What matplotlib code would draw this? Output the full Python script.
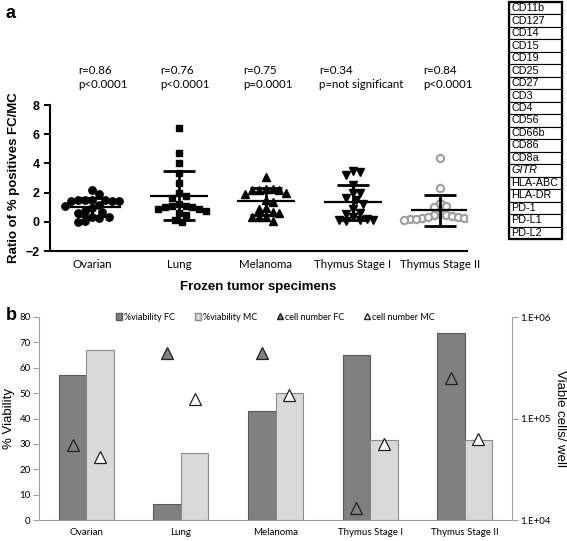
import numpy as np
import matplotlib
matplotlib.use('Agg')
import matplotlib.pyplot as plt
from matplotlib.patches import Patch, Rectangle
from matplotlib.lines import Line2D

W, H = 567, 541

# ---- panel a data ----
groups = ['Ovarian', 'Lung', 'Melanoma', 'Thymus Stage I', 'Thymus Stage II']
ovarian = [2.2, 1.9, 1.5, 1.5, 1.45, 1.5, 1.45, 1.5, 1.45, 1.15, 1.1, 0.95, 0.75, 0.7, 0.6, 0.35, 0.3, 0.25, 0.05, 0.0]
lung = [6.45, 4.7, 4.0, 3.35, 2.65, 1.95, 1.8, 1.6, 1.2, 1.1, 1.0, 0.9, 0.75, 0.85, 1.0, 1.1, 0.6, 0.45, 0.15, 0.0]
melanoma = [3.1, 2.25, 2.2, 2.2, 2.25, 2.2, 2.0, 1.9, 1.5, 1.35, 0.95, 0.9, 0.65, 0.6, 0.35, 0.35, 0.3, 0.05]
thymus1 = [3.5, 3.4, 3.2, 2.55, 1.95, 1.95, 1.65, 1.5, 1.25, 0.9, 0.6, 0.55, 0.35, 0.15, 0.1, 0.05, 0.1, 0.2]
thymus2 = [4.35, 2.3, 1.3, 1.1, 1.0, 0.55, 0.5, 0.45, 0.4, 0.3, 0.25, 0.2, 0.2, 0.25, 0.2, 0.3, 0.2, 0.15]
r_texts = ['r=0.86', 'r=0.76', 'r=0.75', 'r=0.34', 'r=0.84']
p_texts = ['p<0.0001', 'p<0.0001', 'p=0.0001', 'p=not significant', 'p<0.0001']
markers = ['CD11b', 'CD127', 'CD14', 'CD15', 'CD19', 'CD25', 'CD27', 'CD3', 'CD4', 'CD56',
           'CD66b', 'CD86', 'CD8a', 'GITR', 'HLA-ABC', 'HLA-DR', 'PD-1', 'PD-L1', 'PD-L2']

# ---- panel b data ----
viab_fc = [57, 6.5, 43, 65, 73.5]
viab_mc = [67, 26.5, 50, 31.5, 31.5]
cells_fc = [5.5e4, 4.4e5, 4.4e5, 1.3e4, 2.5e5]
cells_mc = [4.2e4, 1.55e5, 1.7e5, 5.6e4, 6.3e4]

calib = 'Lato'
arial = 'Liberation Sans'

fig = plt.figure(figsize=(W / 100, H / 100), dpi=100)

def px(x0, y0, x1, y1):
    return [x0 / W, 1 - y1 / H, (x1 - x0) / W, (y1 - y0) / H]

# ================= panel a =================
ax = fig.add_axes(px(50, 105, 467, 251))
ax.set_xlim(-0.48, 4.31)
ax.set_ylim(-2, 8)


def swarm(ax, x0, vals, d_px):
    t = ax.transData
    ux = t.transform((1, 0))[0] - t.transform((0, 0))[0]
    ys = [t.transform((x0, v))[1] for v in vals]
    placed = []
    offs = [0.0] * len(vals)
    for i in np.argsort(vals)[::-1]:
        for k in range(40):
            o = ((k + 1) // 2) * (1 if k % 2 else -1) * d_px * 0.5
            if all((o - po) ** 2 + (ys[i] - py) ** 2 >= d_px ** 2 for po, py in placed):
                break
        placed.append((o, ys[i]))
        offs[i] = o / ux
    return np.array(offs)


series = [ovarian, lung, melanoma, thymus1, thymus2]
mks = ['o', 's', '^', 'v', 'o']
for i, (vals, mk) in enumerate(zip(series, mks)):
    vals = np.array(vals)
    offs = swarm(ax, i, vals, 6.8 if i < 4 else 6.0)
    if i == 4:
        ax.plot(i + offs, vals, ls='none', marker='o', ms=5.2, mfc='white',
                mec='#a0a0a0', mew=1.6, zorder=2)
    else:
        ax.plot(i + offs, vals, ls='none', marker=mk, ms=5.3 if mk != 's' else 5,
                color='black', zorder=2)
    m, s = vals.mean(), vals.std(ddof=1)
    ax.hlines(m, i - 0.33, i + 0.33, color='black', lw=1.6, zorder=3)
    ax.hlines([m - s, m + s], i - 0.18, i + 0.18, color='black', lw=2, zorder=3)
    ax.vlines(i, m - s, m + s, color='black', lw=2, zorder=3)

ax.set_xticks(range(5))
ax.set_xticklabels(groups, fontfamily=calib, fontsize=8.3)
ax.tick_params(axis='x', length=0, pad=6)
ax.set_yticks([-2, 0, 2, 4, 6, 8])
ax.tick_params(axis='y', length=4, width=1.4, labelsize=9)
for lab in ax.get_yticklabels():
    lab.set_fontweight('bold')
    lab.set_fontfamily(arial)
for sp in ['top', 'right']:
    ax.spines[sp].set_visible(False)
ax.spines['left'].set_linewidth(1.5)
ax.spines['bottom'].set_linewidth(1.5)
ax.set_ylabel('Ratio of % positives FC/MC', fontfamily=arial, fontweight='bold', fontsize=9.5, labelpad=4)
ax.set_xlabel('Frozen tumor specimens', fontfamily=arial, fontweight='bold', fontsize=9.5, labelpad=8)

text_x = [78, 160, 243, 319, 423]
for x, r, p in zip(text_x, r_texts, p_texts):
    fig.text(x / W, 1 - 70 / H, r, fontfamily=calib, fontsize=8.3, va='center')
    fig.text(x / W, 1 - 84 / H, p, fontfamily=calib, fontsize=8.3, va='center')

fig.text(6 / W, 1 - 13 / H, 'a', fontfamily=arial, fontweight='bold', fontsize=13, va='center')
fig.text(6 / W, 1 - 316 / H, 'b', fontfamily=arial, fontweight='bold', fontsize=13, va='center')

# marker table
tax = fig.add_axes(px(509, 2, 562, 239))
tax.axis('off')
tbl = tax.table(cellText=[[m] for m in markers], bbox=[0, 0, 1, 1], cellLoc='left')
tbl.auto_set_font_size(False)
for (r, c), cell in tbl.get_celld().items():
    cell.set_linewidth(0.8)
    cell.PAD = 0.04
    cell.get_text().set_fontsize(7.8)
    cell.get_text().set_fontfamily(arial)
    if markers[r] == 'GITR':
        cell.get_text().set_fontstyle('italic')
tax.add_patch(Rectangle((0, 0), 1, 1, fill=False, lw=1.6, transform=tax.transAxes, clip_on=False))

# ================= panel b =================
bx = fig.add_axes(px(39, 317, 512, 520))
x = np.arange(5)
bw = 0.29
bx.bar(x - bw / 2, viab_fc, bw, color='#808080', edgecolor='#5a5a5a', lw=0.8, zorder=2)
bx.bar(x + bw / 2, viab_mc, bw, color='#d9d9d9', edgecolor='#8c8c8c', lw=0.8, zorder=2)
bx.set_xlim(-0.5, 4.5)
bx.set_ylim(0, 80)
bx.set_yticks(range(0, 81, 10))
bx.set_xticks(x)
bx.set_xticklabels(groups, fontfamily=calib, fontsize=7)
bx.set_xticks(np.arange(-0.5, 5, 1), minor=True)
bx.tick_params(axis='x', which='major', length=0, pad=6)
bx.tick_params(axis='x', which='minor', length=4, color='#a0a0a0')
bx.tick_params(axis='y', length=4, color='#a0a0a0', labelsize=7, pad=2)
for lab in bx.get_yticklabels():
    lab.set_fontfamily(calib)
for sp in ['top', 'right']:
    bx.spines[sp].set_visible(False)
bx.spines['left'].set_color('#a0a0a0')
bx.spines['bottom'].set_color('#a0a0a0')
bx.set_ylabel('% Viability', fontfamily=arial, fontsize=9.5, labelpad=3)

rx = bx.twinx()
rx.set_yscale('log')
rx.set_ylim(1e4, 1e6)
rx.plot(x - bw / 2, cells_fc, ls='none', marker='^', ms=9, mfc='#808080', mec='#202020', mew=0.9, zorder=3)
rx.plot(x + bw / 2, cells_mc, ls='none', marker='^', ms=9, mfc='white', mec='#202020', mew=0.9, zorder=3)
rx.set_yticks([1e4, 1e5, 1e6])
rx.set_yticklabels(['1.E+04', '1.E+05', '1.E+06'], fontfamily=calib, fontsize=7)
rx.minorticks_off()
rx.tick_params(axis='y', length=4, color='#a0a0a0', pad=2)
for sp in ['top', 'left', 'bottom']:
    rx.spines[sp].set_visible(False)
rx.spines['right'].set_color('#a0a0a0')
rx.set_ylabel('Viable cells/ well', fontfamily=arial, fontsize=9.5, rotation=-90, labelpad=11)

handles = [Patch(facecolor='#808080', edgecolor='#5a5a5a', label='%viability FC'),
           Patch(facecolor='#d9d9d9', edgecolor='#8c8c8c', label='%viability MC'),
           Line2D([], [], ls='none', marker='^', ms=5, mfc='#808080', mec='#202020', label='cell number FC'),
           Line2D([], [], ls='none', marker='^', ms=5, mfc='white', mec='#202020', label='cell number MC')]
bx.legend(handles=handles, ncol=4, loc='center', bbox_to_anchor=(0.5, 1.0), frameon=False,
          prop={'family': calib, 'size': 6.5}, handlelength=0.7, handleheight=0.7,
          handletextpad=0.2, columnspacing=2.2)

fig.savefig('out.png', dpi=100)
